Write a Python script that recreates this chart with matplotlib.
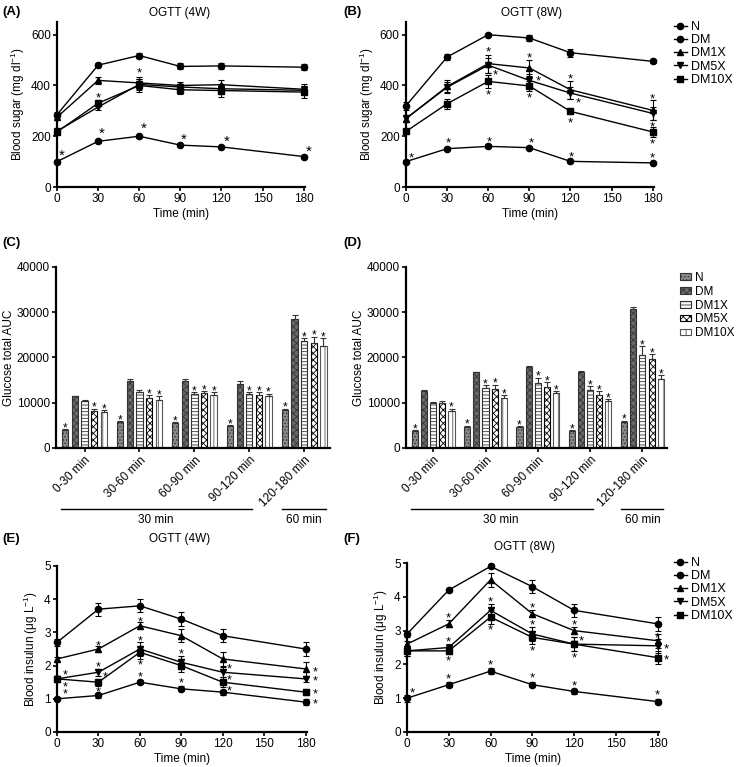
import numpy as np
import matplotlib.pyplot as plt
from matplotlib.lines import Line2D
from matplotlib.transforms import blended_transform_factory

plt.rcParams['font.family'] = ['Liberation Sans', 'DejaVu Sans']
plt.rcParams['font.size'] = 8
plt.rcParams['hatch.linewidth'] = 0.6
plt.rcParams['axes.linewidth'] = 1.6
plt.rcParams['xtick.major.width'] = 1.2
plt.rcParams['ytick.major.width'] = 1.2
plt.rcParams['xtick.major.size'] = 3
plt.rcParams['ytick.major.size'] = 3

groups = ['N', 'DM', 'DM1X', 'DM5X', 'DM10X']
markers = ['o', 'o', '^', 'v', 's']
times = [0, 30, 60, 90, 120, 180]
intervals = ['0-30 min', '30-60 min', '60-90 min', '90-120 min', '120-180 min']

# (A) blood sugar, 4 weeks
sugar4_N = [100, 180, 200, 165, 158, 120]
sugar4_DM = [285, 480, 518, 475, 477, 472]
sugar4_DM1X = [275, 420, 410, 400, 403, 385]
sugar4_DM5X = [220, 315, 404, 394, 387, 381]
sugar4_DM10X = [217, 330, 400, 383, 380, 374]
sugar4_err = [[5, 6, 6, 5, 5, 5], [10, 8, 8, 12, 12, 12], [10, 15, 25, 12, 20, 20],
              [8, 12, 20, 12, 15, 15], [8, 12, 25, 15, 25, 25]]
stars_a_x = [3.5, 33, 63, 92.5, 124, 184, 30, 60]
stars_a_y = [142, 226, 247, 206, 197, 155, 364, 462]

# (B) blood sugar, 8 weeks
sugar8_N = [100, 151, 160, 155, 101, 95]
sugar8_DM = [320, 512, 600, 587, 529, 495]
sugar8_DM1X = [269, 396, 486, 469, 383, 302]
sugar8_DM5X = [270, 393, 480, 420, 370, 290]
sugar8_DM10X = [219, 328, 416, 398, 298, 217]
sugar8_err = [[5, 6, 8, 6, 5, 5], [15, 12, 5, 12, 15, 8], [12, 25, 35, 30, 35, 40],
              [10, 20, 30, 25, 25, 25], [10, 20, 25, 20, 12, 20]]
stars_b_x = [3.6, 31, 61, 91.5, 121, 180, 60, 65, 60, 90, 96.5, 90, 120, 125.5, 120, 180, 180, 180]
stars_b_y = [129, 186, 193, 186, 131, 129, 547, 455, 378, 521, 430, 365, 440, 344, 265, 361, 250, 185]

# (C) glucose AUC, 4 weeks
auc4_N = [4000, 5700, 5500, 4800, 8300]
auc4_DM = [11400, 14900, 14900, 14200, 28400]
auc4_DM1X = [10400, 12400, 12000, 12000, 23700]
auc4_DM5X = [8200, 11100, 12100, 11800, 23200]
auc4_DM10X = [7900, 10700, 11800, 11400, 22600]
auc4_err = [[200, 200, 200, 200, 400], [200, 300, 300, 500, 900], [200, 400, 300, 300, 500],
            [500, 600, 400, 500, 1400], [400, 700, 500, 600, 1700]]
auc4_sig = [[1, 1, 1, 1, 1], [0, 0, 0, 0, 0], [0, 0, 1, 1, 1], [1, 1, 1, 1, 1], [1, 1, 1, 1, 1]]

# (D) glucose AUC, 8 weeks
auc8_N = [3700, 4600, 4600, 3700, 5800]
auc8_DM = [12500, 16700, 17800, 16700, 30700]
auc8_DM1X = [10000, 13200, 14300, 12800, 20500]
auc8_DM5X = [9900, 13100, 13500, 11800, 19700]
auc8_DM10X = [8200, 11100, 12200, 10400, 15300]
auc8_err = [[200, 300, 200, 200, 200], [400, 200, 300, 400, 500], [200, 700, 1200, 900, 2000],
            [500, 900, 1000, 800, 1000], [500, 600, 400, 400, 800]]
auc8_sig = [[1, 1, 1, 1, 1], [0, 0, 0, 0, 0], [0, 1, 1, 1, 1], [0, 1, 1, 1, 1], [1, 1, 1, 1, 1]]

# (E) blood insulin, 4 weeks
ins4_N = [1.0, 1.1, 1.5, 1.3, 1.2, 0.9]
ins4_DM = [2.7, 3.7, 3.8, 3.4, 2.9, 2.5]
ins4_DM1X = [2.2, 2.5, 3.2, 2.9, 2.2, 1.9]
ins4_DM5X = [1.6, 1.8, 2.5, 2.1, 1.8, 1.6]
ins4_DM10X = [1.6, 1.5, 2.4, 2.0, 1.5, 1.2]
ins4_err = [[0.05, 0.08, 0.06, 0.08, 0.08, 0.08], [0.1, 0.2, 0.2, 0.2, 0.2, 0.2],
            [0.05, 0.1, 0.1, 0.2, 0.2, 0.2], [0.1, 0.1, 0.2, 0.2, 0.15, 0.1],
            [0.1, 0.1, 0.2, 0.2, 0.15, 0.1]]
stars_e_x = [6, 6, 6, 30, 30, 35, 30, 60, 60, 60, 60, 90, 90, 125, 125, 125, 187, 187, 187, 187]
stars_e_y = [1.83, 1.46, 1.25, 2.68, 2.06, 1.76, 1.3, 3.41, 2.83, 2.11, 1.76, 2.46, 1.58,
             1.99, 1.66, 1.34, 1.91, 1.63, 1.23, 0.95]

# (F) blood insulin, 8 weeks
ins8_N = [1.0, 1.4, 1.8, 1.4, 1.2, 0.9]
ins8_DM = [2.9, 4.2, 4.9, 4.3, 3.6, 3.2]
ins8_DM1X = [2.6, 3.2, 4.5, 3.5, 3.0, 2.7]
ins8_DM5X = [2.4, 2.5, 3.6, 2.9, 2.6, 2.55]
ins8_DM10X = [2.4, 2.4, 3.4, 2.8, 2.6, 2.2]
ins8_err = [[0.1, 0.08, 0.08, 0.08, 0.08, 0.08], [0.1, 0.06, 0.06, 0.2, 0.2, 0.2],
            [0.1, 0.1, 0.2, 0.1, 0.1, 0.2], [0.15, 0.1, 0.2, 0.2, 0.2, 0.2],
            [0.15, 0.1, 0.2, 0.2, 0.2, 0.2]]
stars_f_x = [4, 30, 30, 30, 30, 60, 60, 60, 90, 90, 90, 90, 120, 120, 125, 120, 180, 186, 186, 180]
stars_f_y = [1.27, 3.47, 2.77, 2.2, 1.68, 3.96, 3.12, 2.08, 3.78, 3.27, 2.5, 1.7,
             3.27, 2.3, 2.79, 1.47, 2.9, 2.57, 2.23, 1.19]

bar_face = ['#8a8a8a', '#6a6a6a', 'white', 'white', 'white']
bar_edge = ['#333333', '#333333', '#333333', 'black', '#555555']
bar_hatch = ['.....', 'xxxxx', '-----', 'xxxxx', '|||']

W, H = 739, 767
fig = plt.figure(figsize=(W / 100, H / 100), dpi=100)


def px_axes(left, top, right, bottom):
    return fig.add_axes([left / W, 1 - bottom / H, (right - left) / W, (bottom - top) / H])


def style(ax):
    ax.spines['top'].set_visible(False)
    ax.spines['right'].set_visible(False)
    ax.tick_params(labelsize=8.5, pad=1.5)


def star(ax, x, y, size=9):
    ax.annotate('*', (x, y), xytext=(0, -0.3 * size), textcoords='offset points',
                ha='center', va='center', fontsize=size, annotation_clip=False)


def line_panel(ax, series, errs, sx, sy, ymax, yticks, ylabel, nstar=0, ssize=9.5):
    for i, vals in enumerate(series):
        ax.errorbar(times, vals, yerr=errs[i], color='black', lw=1, marker=markers[i],
                    ms=4.5, capsize=2, elinewidth=0.8, capthick=0.8,
                    clip_on=False, zorder=3)
    for k in range(len(sx)):
        star(ax, sx[k], sy[k], 11 if k < nstar else ssize)
    ax.set_xlim(0, 181)
    ax.set_ylim(0, ymax)
    ax.set_xticks([0, 30, 60, 90, 120, 150, 180])
    ax.set_yticks(yticks)
    ax.set_xlabel('Time (min)', fontsize=8.5, labelpad=2)
    ax.set_ylabel(ylabel, fontsize=8.5, labelpad=3)
    style(ax)


def line_legend(ax, top):
    handles = [Line2D([], [], color='black', lw=1, marker=m, ms=4.5) for m in markers]
    ax.legend(handles, groups, loc='upper left', bbox_to_anchor=(674 / W, 1 - top / H),
              bbox_transform=fig.transFigure, frameon=False, fontsize=9, handlelength=1.0,
              handletextpad=0.4, labelspacing=0.1, borderpad=0, borderaxespad=0)


def bar_panel(ax, series, errs, sig):
    x = np.arange(len(intervals))
    step, width = 0.175, 0.115
    for i, vals in enumerate(series):
        pos = x + (i - 2) * step
        low = np.zeros(len(vals))
        ax.bar(pos, vals, width, color=bar_face[i], edgecolor=bar_edge[i], hatch=bar_hatch[i],
               lw=0.8, label=groups[i], zorder=2)
        ax.errorbar(pos, vals, yerr=[low, errs[i]], fmt='none', ecolor='#333333',
                    elinewidth=0.8, capsize=2, capthick=0.8, zorder=3)
        for k in range(len(vals)):
            if sig[i][k]:
                star(ax, pos[k], vals[k] + errs[i][k] + 1000, 8.5)
    ax.set_xlim(-0.52, 4.47)
    ax.set_ylim(0, 40000)
    ax.set_yticks([0, 10000, 20000, 30000, 40000])
    ax.set_xticks(x)
    ax.set_xticklabels(intervals, rotation=45, ha='right', rotation_mode='anchor')
    ax.tick_params(axis='x', length=3)
    style(ax)
    ax.set_ylabel('Glucose total AUC', fontsize=8.5, labelpad=1.5)
    tr = blended_transform_factory(ax.transData, ax.transAxes)
    ax.plot([-0.43, 3.05], [-0.337, -0.337], color='black', lw=1, transform=tr, clip_on=False)
    ax.plot([3.6, 4.4], [-0.337, -0.337], color='black', lw=1, transform=tr, clip_on=False)
    ax.text(1.3, -0.4, '30 min', transform=tr, ha='center', va='center', fontsize=8.5)
    ax.text(4.0, -0.4, '60 min', transform=tr, ha='center', va='center', fontsize=8.5)


sugar_label = 'Blood sugar (mg dl$^{\\mathregular{-1}}$)'
ins_label = 'Blood insulun (\u03bcg L$^{\\mathregular{-1}}$)'

axA = px_axes(57, 22, 305, 187)
line_panel(axA, [sugar4_N, sugar4_DM, sugar4_DM1X, sugar4_DM5X, sugar4_DM10X], sugar4_err,
           stars_a_x, stars_a_y, 650, [0, 200, 400, 600], sugar_label, nstar=6)

axB = px_axes(406, 22, 654, 187)
line_panel(axB, [sugar8_N, sugar8_DM, sugar8_DM1X, sugar8_DM5X, sugar8_DM10X], sugar8_err,
           stars_b_x, stars_b_y, 650, [0, 200, 400, 600], sugar_label)
line_legend(axB, 21)

axC = px_axes(56, 267, 330, 448)
bar_panel(axC, [auc4_N, auc4_DM, auc4_DM1X, auc4_DM5X, auc4_DM10X], auc4_err, auc4_sig)

axD = px_axes(406, 267, 667, 448)
bar_panel(axD, [auc8_N, auc8_DM, auc8_DM1X, auc8_DM5X, auc8_DM10X], auc8_err, auc8_sig)
axD.legend(loc='upper left', bbox_to_anchor=(680 / W, 1 - 272 / H), bbox_transform=fig.transFigure,
           frameon=False, fontsize=8.5, handlelength=0.9, handleheight=0.5, handletextpad=0.4,
           labelspacing=0.15, borderpad=0, borderaxespad=0)

axE = px_axes(57, 566, 307, 732)
line_panel(axE, [ins4_N, ins4_DM, ins4_DM1X, ins4_DM5X, ins4_DM10X], ins4_err,
           stars_e_x, stars_e_y, 5, [0, 1, 2, 3, 4, 5], ins_label, ssize=9)

axF = px_axes(407, 563, 659, 732)
line_panel(axF, [ins8_N, ins8_DM, ins8_DM1X, ins8_DM5X, ins8_DM10X], ins8_err,
           stars_f_x, stars_f_y, 5, [0, 1, 2, 3, 4, 5], ins_label)
line_legend(axF, 557)

# titles and panel letters
fig.text(180 / W, 1 - 13 / H, 'OGTT (4W)', ha='center', va='center', fontsize=8.5)
fig.text(532 / W, 1 - 13 / H, 'OGTT (8W)', ha='center', va='center', fontsize=8.5)
fig.text(180 / W, 1 - 539 / H, 'OGTT (4W)', ha='center', va='center', fontsize=8.5)
fig.text(525 / W, 1 - 547 / H, 'OGTT (8W)', ha='center', va='center', fontsize=8.5)
for lab, xx, yy in [('(A)', 2, 12), ('(B)', 343, 12), ('(C)', 2, 243), ('(D)', 343, 243),
                    ('(E)', 2, 539), ('(F)', 343, 539)]:
    fig.text(xx / W, 1 - yy / H, lab, ha='left', va='center', fontsize=9.5, fontweight='bold')

fig.savefig('out.png', dpi=100)
